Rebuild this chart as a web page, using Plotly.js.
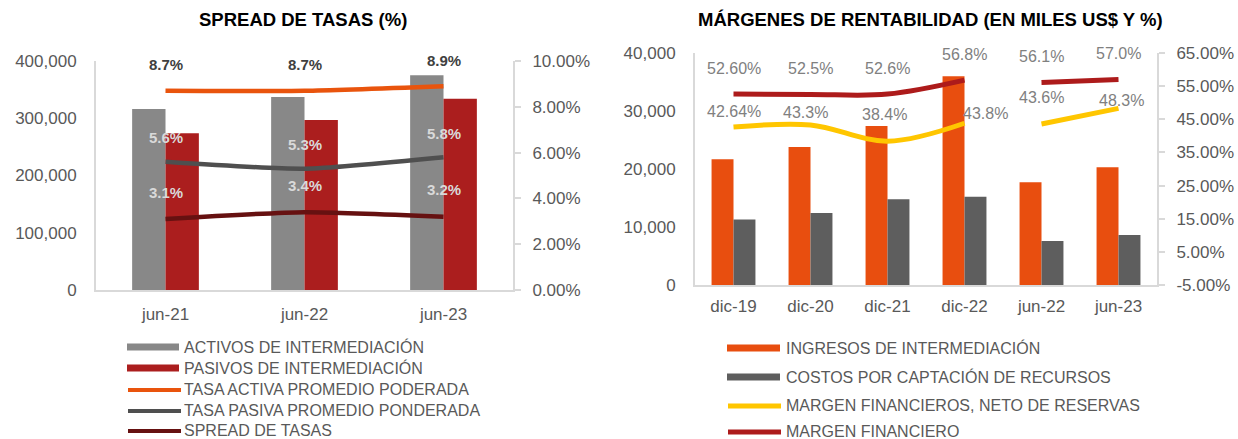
<!DOCTYPE html>
<html><head><meta charset="utf-8">
<script src="https://cdn.plot.ly/plotly-3.0.1.min.js"></script>
<style>html,body{margin:0;padding:0;background:#fff}#chart{width:1238px;height:439px}</style>
</head><body><div id="chart"></div>
<script>
// ---- Data: SPREAD DE TASAS ----
const spreadCategories = ['jun-21', 'jun-22', 'jun-23'];
const activos = [316000, 337000, 375000];
const pasivos = [274000, 297000, 334000];
const tasaActiva = [0.087, 0.087, 0.089];
const tasaPasiva = [0.056, 0.053, 0.058];
const spreadTasas = [0.031, 0.034, 0.032];

// ---- Data: MÁRGENES DE RENTABILIDAD ----
const margenCategories = ['dic-19', 'dic-20', 'dic-21', 'dic-22', 'jun-22', 'jun-23'];
const ingresos = [21700, 23800, 27400, 36000, 17700, 20300];
const costos = [11300, 12400, 14800, 15200, 7600, 8600];
const margenNeto = [0.4264, 0.433, 0.384, 0.438, 0.436, 0.483];
const margenFin = [0.526, 0.525, 0.526, 0.568, 0.561, 0.570];
const margenNetoLabels = ['42.64%', '43.3%', '38.4%', '43.8%', '43.6%', '48.3%'];
const margenFinLabels = ['52.60%', '52.5%', '52.6%', '56.8%', '56.1%', '57.0%'];

// ---- Tick values ----
const leftPctTicks = [0, 0.02, 0.04, 0.06, 0.08, 0.10];
const rightPctTicks = [-0.05, 0.05, 0.15, 0.25, 0.35, 0.45, 0.55, 0.65];

const leftLegendNames = ['ACTIVOS DE INTERMEDIACIÓN', 'PASIVOS DE INTERMEDIACIÓN', 'TASA ACTIVA PROMEDIO PODERADA', 'TASA PASIVA PROMEDIO PONDERADA', 'SPREAD DE TASAS'];
const rightLegendNames = ['INGRESOS DE INTERMEDIACIÓN', 'COSTOS POR CAPTACIÓN DE RECURSOS', 'MARGEN FINANCIEROS, NETO DE RESERVAS', 'MARGEN FINANCIERO'];

// ---- Styles ----
const W = 1238, H = 439;
const FONT = 'Liberation Sans, Arial, sans-serif';
const TXT = '#595959';
const AX = '#d9d9d9';
const C = {
  activos: '#888888', pasivos: '#AB1E1E', tasaActiva: '#E9540D', tasaPasiva: '#4F4F4F', spread: '#661111',
  ingresos: '#E84E0F', costos: '#5E5E5E', neto: '#FFC600', fin: '#AD1B1B'
};
const px = x => x / W;
const py = y => 1 - y / H;
const pctText = v => (v * 100).toFixed(2) + '%';

const annual = [0, 1, 2, 3], semi = [4, 5];
const pick = (arr, idx) => idx.map(i => arr[i]);

const traces = [
  {type: 'bar', x: spreadCategories, y: activos, xaxis: 'x', yaxis: 'y', marker: {color: C.activos}, width: 0.24, offset: -0.24},
  {type: 'bar', x: spreadCategories, y: pasivos, xaxis: 'x', yaxis: 'y', marker: {color: C.pasivos}, width: 0.24, offset: 0},
  {type: 'scatter', mode: 'lines', x: spreadCategories, y: tasaActiva, xaxis: 'x', yaxis: 'y2', line: {color: C.tasaActiva, width: 4.5, shape: 'spline', smoothing: 0.6}},
  {type: 'scatter', mode: 'lines', x: spreadCategories, y: tasaPasiva, xaxis: 'x', yaxis: 'y2', line: {color: C.tasaPasiva, width: 4.5, shape: 'spline', smoothing: 0.6}},
  {type: 'scatter', mode: 'lines', x: spreadCategories, y: spreadTasas, xaxis: 'x', yaxis: 'y2', line: {color: C.spread, width: 4.5, shape: 'spline', smoothing: 0.6}},

  {type: 'bar', x: margenCategories, y: ingresos, xaxis: 'x2', yaxis: 'y3', marker: {color: C.ingresos}, width: 0.285, offset: -0.285},
  {type: 'bar', x: margenCategories, y: costos, xaxis: 'x2', yaxis: 'y3', marker: {color: C.costos}, width: 0.285, offset: 0},
];
[annual, semi].forEach(idx => {
  traces.push({type: 'scatter', mode: 'lines', x: pick(margenCategories, idx), y: pick(margenNeto, idx), xaxis: 'x2', yaxis: 'y4', line: {color: C.neto, width: 5, shape: 'spline', smoothing: 1}});
  traces.push({type: 'scatter', mode: 'lines', x: pick(margenCategories, idx), y: pick(margenFin, idx), xaxis: 'x2', yaxis: 'y4', line: {color: C.fin, width: 5, shape: 'spline', smoothing: 1}});
});

const annotations = [];
const shapes = [];
// titles
annotations.push({text: '<b>SPREAD DE TASAS (%)</b>', xref: 'paper', yref: 'paper', x: px(303), y: py(20), showarrow: false, xanchor: 'center', yanchor: 'middle', font: {family: FONT, size: 18.5, color: '#000'}});
annotations.push({text: '<b>MÁRGENES DE RENTABILIDAD (EN MILES US$ Y %)</b>', xref: 'paper', yref: 'paper', x: px(930), y: py(20), showarrow: false, xanchor: 'center', yanchor: 'middle', font: {family: FONT, size: 18.5, color: '#000'}});

// left data labels
const pct1 = v => (v * 100).toFixed(1) + '%';
spreadCategories.forEach((c, i) => {
  annotations.push({text: '<b>' + pct1(tasaActiva[i]) + '</b>', x: c, y: tasaActiva[i], xref: 'x', yref: 'y2', yshift: 26, showarrow: false, font: {family: FONT, size: 15, color: '#404040'}});
  annotations.push({text: '<b>' + pct1(tasaPasiva[i]) + '</b>', x: c, y: tasaPasiva[i], xref: 'x', yref: 'y2', yshift: 24, showarrow: false, font: {family: FONT, size: 15, color: '#D9D9D9'}});
  annotations.push({text: '<b>' + pct1(spreadTasas[i]) + '</b>', x: c, y: spreadTasas[i], xref: 'x', yref: 'y2', yshift: 27, showarrow: false, font: {family: FONT, size: 15, color: '#D9D9D9'}});
});
// right data labels
const netoShift = [[0, 16], [-5, 12], [-3, 27], [21, 10], [0, 26], [3, 8]];
margenCategories.forEach((c, i) => {
  annotations.push({text: margenFinLabels[i], x: c, y: margenFin[i], xref: 'x2', yref: 'y4', yshift: 26, showarrow: false, font: {family: FONT, size: 16, color: '#808080'}});
  annotations.push({text: margenNetoLabels[i], x: c, y: margenNeto[i], xref: 'x2', yref: 'y4', xshift: netoShift[i][0], yshift: netoShift[i][1], showarrow: false, font: {family: FONT, size: 16, color: '#808080'}});
});

// manual legends
const leftLegendStyle = [['bar', C.activos], ['bar', C.pasivos], ['line', C.tasaActiva], ['line', C.tasaPasiva], ['line', C.spread]];
const leftRows = [347, 368, 389, 410, 430];
leftLegendNames.forEach((n, i) => {
  const y = leftRows[i];
  const [kind, col] = leftLegendStyle[i];
  if (kind === 'bar') {
    shapes.push({type: 'rect', xref: 'paper', yref: 'paper', x0: px(127), x1: px(179), y0: py(y - 3.5), y1: py(y + 3.5), fillcolor: col, line: {width: 0}});
  } else {
    shapes.push({type: 'line', xref: 'paper', yref: 'paper', x0: px(128), x1: px(181), y0: py(y + 1), y1: py(y + 1), line: {color: col, width: 4}});
  }
  annotations.push({text: n, xref: 'paper', yref: 'paper', x: px(183), y: py(y), xanchor: 'left', yanchor: 'middle', showarrow: false, borderpad: 0, font: {family: FONT, size: 16, color: TXT}});
});
const rightLegendStyle = [['bar', C.ingresos], ['bar', C.costos], ['line', C.neto], ['line', C.fin]];
const rightRows = [348, 377, 405, 431];
rightLegendNames.forEach((n, i) => {
  const y = rightRows[i];
  const [kind, col] = rightLegendStyle[i];
  if (kind === 'bar') {
    shapes.push({type: 'rect', xref: 'paper', yref: 'paper', x0: px(727), x1: px(780), y0: py(y - 3.5), y1: py(y + 3.5), fillcolor: col, line: {width: 0}});
  } else {
    shapes.push({type: 'line', xref: 'paper', yref: 'paper', x0: px(728), x1: px(781), y0: py(y + 1), y1: py(y + 1), line: {color: col, width: 5}});
  }
  annotations.push({text: n, xref: 'paper', yref: 'paper', x: px(785), y: py(y), xanchor: 'left', yanchor: 'middle', showarrow: false, borderpad: 0, font: {family: FONT, size: 16, color: TXT}});
});

const baseAxis = {showgrid: false, zeroline: false, showline: true, linecolor: AX, linewidth: 2, tickfont: {family: FONT, size: 17, color: TXT}, fixedrange: true};

const layout = {
  width: W, height: H,
  margin: {l: 0, r: 0, t: 0, b: 0},
  paper_bgcolor: '#fff', plot_bgcolor: '#fff',
  showlegend: false, hovermode: false, barmode: 'overlay',
  font: {family: FONT, color: TXT},
  xaxis: Object.assign({}, baseAxis, {domain: [px(96), px(513)], anchor: 'y', type: 'category', range: [-0.5, 2.5], ticks: '', ticklabelstandoff: 8}),
  yaxis: Object.assign({}, baseAxis, {domain: [py(290), py(61)], anchor: 'x', range: [0, 400000], dtick: 100000, tickformat: ',', ticks: '', ticklabelstandoff: 14}),
  yaxis2: Object.assign({}, baseAxis, {overlaying: 'y', side: 'right', anchor: 'x', range: [0, 0.10], tickmode: 'array', tickvals: leftPctTicks, ticktext: leftPctTicks.map(pctText), ticks: 'outside', ticklen: 6, tickwidth: 2, tickcolor: AX, ticklabelstandoff: 8}),
  xaxis2: Object.assign({}, baseAxis, {domain: [px(695), px(1157)], anchor: 'y3', type: 'category', range: [-0.5, 5.5], ticks: '', ticklabelstandoff: 5}),
  yaxis3: Object.assign({}, baseAxis, {domain: [py(285), py(53)], anchor: 'x2', range: [0, 40000], dtick: 10000, tickformat: ',', ticks: '', ticklabelstandoff: 14}),
  yaxis4: Object.assign({}, baseAxis, {overlaying: 'y3', side: 'right', anchor: 'x2', range: [-0.05, 0.65], tickmode: 'array', tickvals: rightPctTicks, ticktext: rightPctTicks.map(pctText), ticks: 'outside', ticklen: 6, tickwidth: 2, tickcolor: AX, ticklabelstandoff: 8}),
  annotations: annotations,
  shapes: shapes
};

Plotly.newPlot('chart', traces, layout, {staticPlot: true, displayModeBar: false});
</script>
</body></html>
